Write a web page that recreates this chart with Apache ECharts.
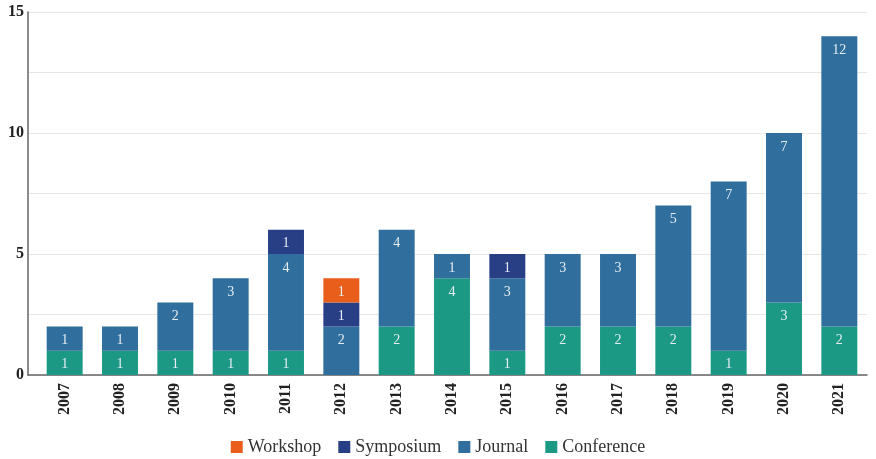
<!DOCTYPE html>
<html>
<head>
<meta charset="utf-8">
<script src="https://cdn.jsdelivr.net/npm/echarts@6/dist/echarts.min.js"></script>
<style>
  html, body { margin: 0; padding: 0; background: #fff; }
  #chart { width: 876px; height: 459px; }
</style>
</head>
<body>
<div id="chart"></div>
<script>
// Publications per year, by venue type
const years = ['2007','2008','2009','2010','2011','2012','2013','2014','2015','2016','2017','2018','2019','2020','2021'];
const conference = [1, 1, 1, 1, 1, 0, 2, 4, 1, 2, 2, 2, 1, 3, 2];
const journal    = [1, 1, 2, 3, 4, 2, 4, 1, 3, 3, 3, 5, 7, 7, 12];
const symposium  = [0, 0, 0, 0, 1, 1, 0, 0, 1, 0, 0, 0, 0, 0, 0];
const workshop   = [0, 0, 0, 0, 0, 1, 0, 0, 0, 0, 0, 0, 0, 0, 0];
const yTicks = [0, 5, 10, 15];

const serif = '"Liberation Serif", "DejaVu Serif", serif';
const colors = {
  Workshop: '#e95e1b',
  Symposium: '#283f86',
  Journal: '#2f6e9d',
  Conference: '#1b9985'
};

function barSeries(name, data) {
  return {
    name: name,
    type: 'bar',
    stack: 'total',
    xAxisIndex: 1,
    yAxisIndex: 1,
    barWidth: '65%',
    data: data,
    itemStyle: { color: colors[name] },
    label: {
      show: true,
      position: 'insideTop',
      distance: 7,
      color: '#e6edf2',
      fontFamily: serif,
      fontSize: 14,
      formatter: p => (p.value ? String(p.value) : '')
    },
    emphasis: { disabled: true }
  };
}

const chart = echarts.init(document.getElementById('chart'));
chart.setOption({
  animation: false,
  textStyle: { fontFamily: serif },
  grid: [
    { left: 28, right: 9, top: 12, bottom: 84 },
    { left: 37, right: 9, top: 12, bottom: 84 }
  ],
  legend: {
    data: ['Workshop', 'Symposium', 'Journal', 'Conference'],
    left: 'center',
    top: 433,
    icon: 'rect',
    itemWidth: 12,
    itemHeight: 12,
    itemGap: 17,
    textStyle: { fontFamily: serif, fontSize: 18, color: '#333' }
  },
  xAxis: [
    {
      gridIndex: 0,
      type: 'value',
      min: 0,
      max: 1,
      axisLine: { show: true, onZero: false, lineStyle: { color: '#666', width: 1.5 } },
      axisTick: { show: false },
      axisLabel: { show: false },
      splitLine: { show: false }
    },
    {
      gridIndex: 1,
      type: 'category',
      data: years,
      axisLine: { show: false },
      axisTick: { show: false },
      axisLabel: {
        rotate: 90,
        margin: 8,
        fontFamily: serif,
        fontSize: 16,
        fontWeight: 'bold',
        color: '#222'
      }
    }
  ],
  yAxis: [
    {
      gridIndex: 0,
      type: 'value',
      min: 0,
      max: 15,
      interval: 2.5,
      axisLine: { show: true, lineStyle: { color: '#666', width: 1.5 } },
      axisTick: { show: false },
      axisLabel: {
        margin: 4,
        fontFamily: serif,
        fontSize: 16,
        fontWeight: 'bold',
        color: '#222',
        formatter: v => (yTicks.includes(v) ? String(v) : '')
      },
      splitLine: { show: true, lineStyle: { color: '#e6e6e6', width: 1 } }
    },
    {
      gridIndex: 1,
      type: 'value',
      min: 0,
      max: 15,
      show: false,
      splitLine: { show: false }
    }
  ],
  series: [
    barSeries('Conference', conference),
    barSeries('Journal', journal),
    barSeries('Symposium', symposium),
    barSeries('Workshop', workshop)
  ]
});
</script>
</body>
</html>
